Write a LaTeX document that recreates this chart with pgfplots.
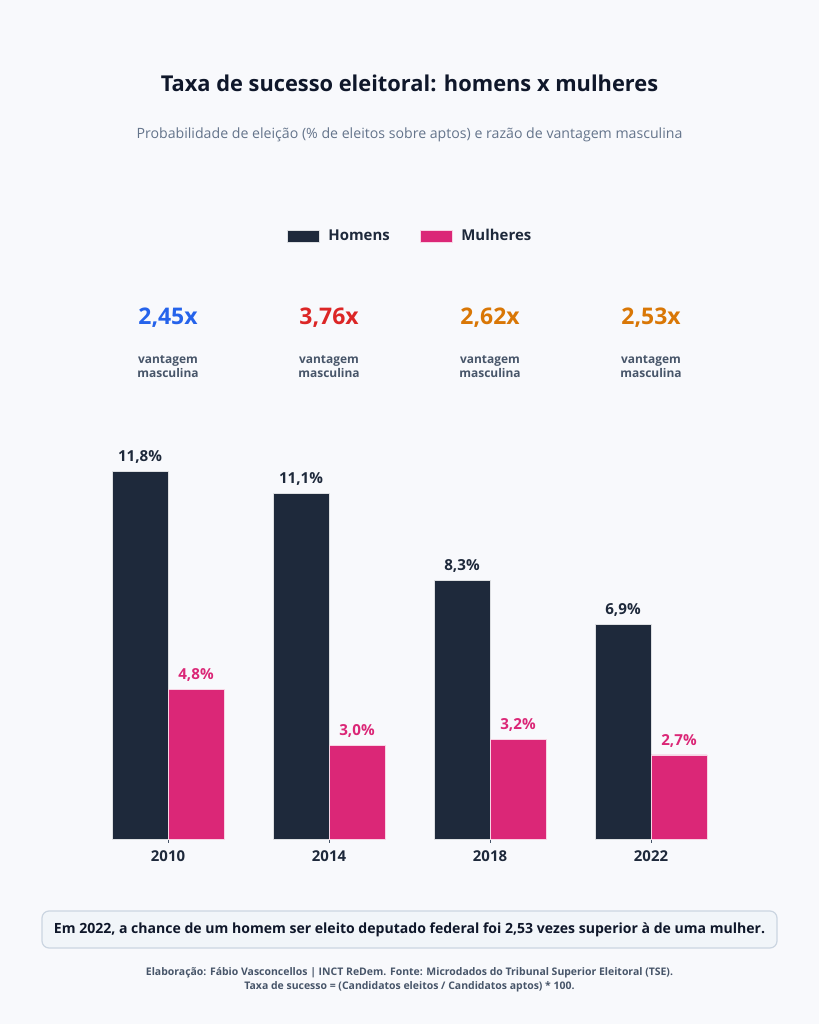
\documentclass[border=0pt]{standalone}
\usepackage{pgfplots}
\pgfplotsset{compat=1.18}
\usepackage{fontspec}
\setmainfont{Open Sans}
\definecolor{bgc}{RGB}{248,249,252}
\definecolor{homc}{RGB}{30,41,59}
\definecolor{mulc}{RGB}{219,39,119}
\definecolor{titc}{RGB}{15,23,42}
\definecolor{subc}{RGB}{100,116,139}
\definecolor{grc}{RGB}{71,85,105}
\definecolor{bluc}{RGB}{37,99,235}
\definecolor{redc}{RGB}{220,38,38}
\definecolor{orc}{RGB}{217,119,6}
\definecolor{boxf}{RGB}{241,245,249}
\definecolor{boxd}{RGB}{203,213,225}
\begin{document}
\begin{tikzpicture}[x=1bp,y=1bp]
\fill[bgc] (0,0) rectangle (819,1024);
\node[text=titc,font=\fontsize{21.9}{26}\selectfont\bfseries] at (409.5,940.5) {Taxa de sucesso eleitoral: homens x mulheres};
\node[text=subc,font=\fontsize{14.2}{17}\selectfont] at (409.5,889.5) {Probabilidade de eleição (\% de eleitos sobre aptos) e razão de vantagem masculina};
\begin{axis}[
  at={(87.5bp,185bp)}, anchor=south west,
  scale only axis, width=644bp, height=436.1bp,
  xmin=-0.5, xmax=3.5, ymin=0, ymax=14,
  axis line style={draw=none},
  /pgf/number format/assume math mode=true,
  ytick=\empty,
  xtick={0,1,2,3}, xticklabels={2010,2014,2018,2022},
  xtick pos=bottom,
  xticklabel style={font=\fontsize{15}{18}\selectfont\bfseries, text=homc, yshift=-4.5bp},
  major tick length=4bp,
  xtick style={draw=grc, line width=0.8bp},
  tick align=outside,
  ybar, bar width=56bp,
  nodes near coords={\pgfmathprintnumber[fixed,fixed zerofill,precision=1,use comma]{\pgfplotspointmeta}\%},
  nodes near coords style={font=\fontsize{15.2}{18}\selectfont\bfseries, anchor=south, yshift=4bp},
  legend style={at={(0.5008,1.383)}, anchor=center, draw=none, fill=none, legend columns=2,
    font=\fontsize{15}{18}\selectfont\bfseries, text=homc,
    /tikz/every odd column/.append style={column sep=7bp},
    /tikz/every even column/.append style={column sep=28bp}},
  legend image code/.code={\fill[#1] (0bp,-6bp) rectangle (32bp,6bp);},
  clip=false,
]
\addplot[fill=homc, draw=white!85!homc, line width=0.6bp, bar shift=-28bp, nodes near coords style={text=homc}] coordinates {(0,11.8) (1,11.1) (2,8.3) (3,6.9)};
\addlegendentry{Homens}
\addplot[fill=mulc, draw=white!80!mulc, line width=0.6bp, bar shift=28bp, nodes near coords style={text=mulc}] coordinates {(0,4.8) (1,3.0) (2,3.2) (3,2.7)};
\addlegendentry{Mulheres}
\end{axis}
\foreach \xx/\vv/\cc in {168/{2,45x}/bluc, 329/{3,76x}/redc, 490/{2,62x}/orc, 651/{2,53x}/orc}{
  \node[text=\cc,font=\fontsize{23}{27}\selectfont\bfseries] at (\xx,706) {\vv};
  \node[text=grc,font=\fontsize{12}{14.5}\selectfont\bfseries,align=center] at (\xx,657.5) {vantagem\\masculina};
}
\draw[boxd, fill=boxf, line width=1.2bp, rounded corners=7bp] (42,76) rectangle (777,113);
\node[text=titc,font=\fontsize{14.1}{17}\selectfont\bfseries] at (409.5,94.5) {Em 2022, a chance de um homem ser eleito deputado federal foi 2,53 vezes superior à de uma mulher.};
\node[text=grc,font=\fontsize{10.5}{14}\selectfont\bfseries,align=center] at (409.5,44) {Elaboração: Fábio Vasconcellos | INCT ReDem. Fonte: Microdados do Tribunal Superior Eleitoral (TSE).\\Taxa de sucesso = (Candidatos eleitos / Candidatos aptos) * 100.};
\end{tikzpicture}
\end{document}
